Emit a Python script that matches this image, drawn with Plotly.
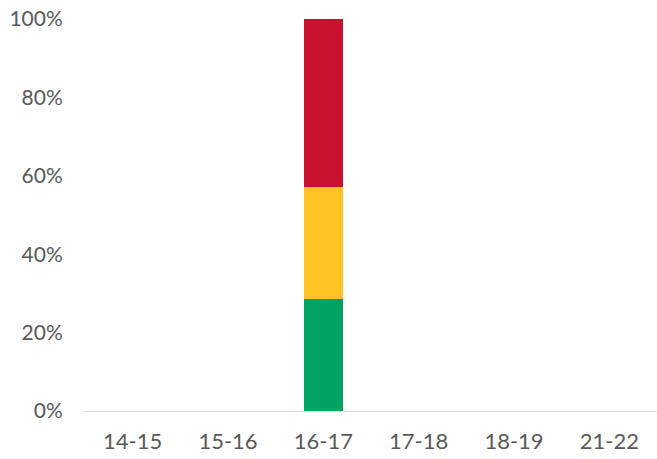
import plotly.graph_objects as go

categories = ["14-15", "15-16", "16-17", "17-18", "18-19", "21-22"]
green_vals = [None, None, 2/7, None, None, None]
yellow_vals = [None, None, 2/7, None, None, None]
red_vals = [None, None, 3/7, None, None, None]
y_tickvals = [0, 0.2, 0.4, 0.6, 0.8, 1.0]

fig = go.Figure()
for name, vals, col in [("Green", green_vals, "#00A462"),
                        ("Amber", yellow_vals, "#FFC326"),
                        ("Red", red_vals, "#C8102F")]:
    fig.add_trace(go.Bar(x=categories, y=vals, name=name, marker_color=col,
                         marker_line_width=0))

fig.update_layout(
    barmode="stack",
    bargap=0.59,
    width=657, height=459,
    margin=dict(l=85, r=0, t=19, b=48),
    paper_bgcolor="white", plot_bgcolor="white",
    showlegend=False,
    font=dict(family="Lato, 'Open Sans', sans-serif", size=22, color="#595959"),
)
fig.update_xaxes(
    showline=True, linecolor="#D9D9D9", linewidth=1,
    ticks="outside", ticklen=8, tickcolor="rgba(0,0,0,0)",
    showgrid=False, ticklabelstandoff=3,
)
fig.update_yaxes(
    range=[0, 1], tickvals=y_tickvals, tickformat=".0%",
    tickfont=dict(size=21),
    showgrid=False, zeroline=False, showline=False,
    ticks="outside", ticklen=0, ticklabelstandoff=17,
)
fig.write_html("out.html",
               config={"displayModeBar": False},
               post_script="document.body.style.margin='0';document.body.style.overflow='hidden';")
